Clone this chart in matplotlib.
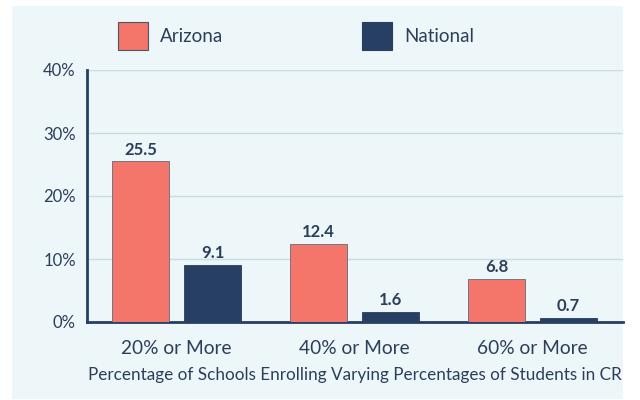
import matplotlib
matplotlib.use("Agg")
import matplotlib.pyplot as plt
import numpy as np
from matplotlib.patches import Rectangle

categories = ["20% or More", "40% or More", "60% or More"]
arizona = [25.5, 12.4, 6.8]
national = [9.1, 1.6, 0.7]
series_names = ["Arizona", "National"]
yticks = [0, 10, 20, 30, 40]
ytick_labels = ["0%", "10%", "20%", "30%", "40%"]
xlabel = "Percentage of Schools Enrolling Varying Percentages of Students in CR"

plt.rcParams['font.family'] = ['Lato', 'DejaVu Sans']
TXT = "#2B3F5C"
AZ = "#F4756A"
NA = "#263F62"
BG = "#EDF6F8"

fig = plt.figure(figsize=(6.4, 4.0), dpi=100)
fig.patch.set_facecolor("white")
fig.patches.append(Rectangle((12/640, 1-399/400), (623-12)/640, (399-6)/400,
                             transform=fig.transFigure, facecolor=BG, edgecolor="none", zorder=-10))

ax = fig.add_axes([87/640, 1-322/400, (623-87)/640, (322-70)/400])
ax.set_facecolor("none")

x = np.arange(len(categories))
w = 0.32
off = 0.202
b1 = ax.bar(x - off, arizona, w, color=AZ, edgecolor="#5d6b7c", linewidth=0.6, zorder=3)
b2 = ax.bar(x + off, national, w, color=NA, edgecolor=NA, linewidth=0.6, zorder=3)

for bars, vals in ((b1, arizona), (b2, national)):
    for r, v in zip(bars, vals):
        ax.text(r.get_x() + r.get_width()/2, v + 0.6, f"{v}", ha="center", va="bottom",
                fontsize=12, fontweight="bold", color=TXT)

ax.set_xlim(-0.503, 2.508)
ax.set_ylim(0, 40)
ax.set_yticks(yticks)
ax.set_yticklabels(ytick_labels)
ax.set_xticks(x)
ax.set_xticklabels(categories)
ax.tick_params(axis="x", length=0, pad=13, labelsize=13.8, labelcolor=TXT)
ax.tick_params(axis="y", length=0, pad=8, labelsize=12, labelcolor=TXT)
ax.yaxis.grid(True, color="#C9DCDF", linewidth=1, zorder=0)
ax.set_axisbelow(True)
for s in ["top", "right"]:
    ax.spines[s].set_visible(False)
for s in ["left", "bottom"]:
    ax.spines[s].set_color(NA)
    ax.spines[s].set_linewidth(2)
ax.set_xlabel(xlabel, fontsize=12.3, color=TXT, labelpad=7)

# legend
fig.patches.append(Rectangle((118/640, 1-50/400), 30/640, 28/400, transform=fig.transFigure,
                             facecolor=AZ, edgecolor="#4a5568", linewidth=0.8))
fig.text(160/640, 1-37/400, series_names[0], fontsize=13.5, color=TXT, va="center")
fig.patches.append(Rectangle((362/640, 1-50/400), 30/640, 28/400, transform=fig.transFigure,
                             facecolor=NA, edgecolor=NA, linewidth=0.8))
fig.text(404/640, 1-37/400, series_names[1], fontsize=13.5, color=TXT, va="center")

fig.savefig("out.png", dpi=100)
